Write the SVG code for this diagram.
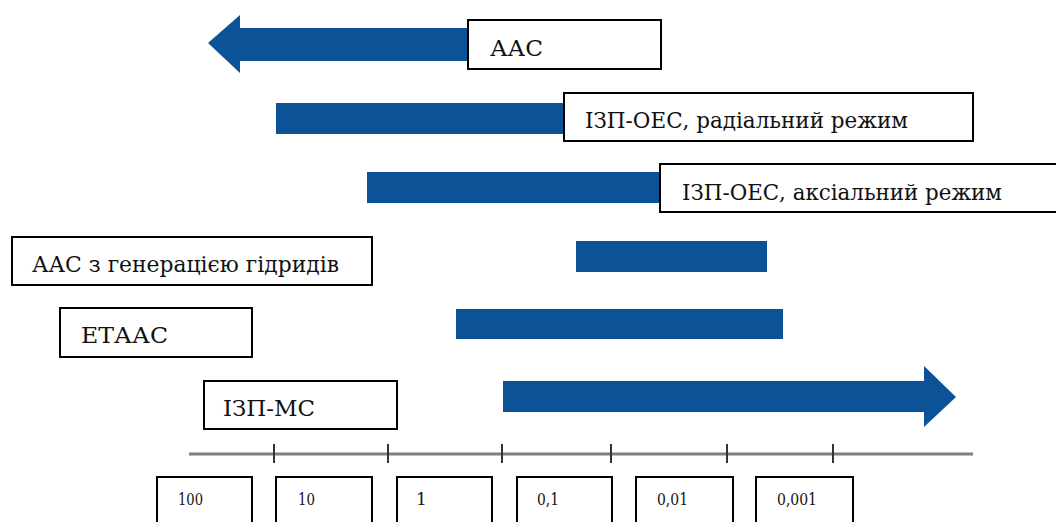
<svg xmlns="http://www.w3.org/2000/svg" width="1056" height="522" viewBox="0 0 1056 522">
<style>
.bar{fill:#0b5296}
.box{fill:#fff;stroke:#000;stroke-width:2}
.lbl{font-family:"DejaVu Serif","Liberation Serif",serif;font-size:23px;fill:#111}
.num{font-family:"DejaVu Serif","Liberation Serif",serif;font-size:17px;fill:#111}
.axis{stroke:#7f7f7f;stroke-width:3}
.tick{stroke:#333;stroke-width:2}
</style>
<rect width="1056" height="522" fill="#fff"/>
<g id="connectors">
<polygon class="bar" points="208,43 240,15 240,28 470,28 470,61 240,61 240,73"/>
<rect class="bar" x="276" y="103" width="290" height="31"/>
<rect class="bar" x="367" y="172" width="295" height="31"/>
<rect class="bar" x="576" y="241" width="191" height="31"/>
<rect class="bar" x="456" y="309" width="327" height="30"/>
<polygon class="bar" points="503,381 924,381 924,366 956,397 924,427 924,412 503,412"/>
</g>
<g id="node-aas"><rect class="box" x="468" y="20" width="193" height="49"/><text class="lbl" x="490" y="56" textLength="53" lengthAdjust="spacingAndGlyphs">ААС</text></g>
<g id="node-izp-oes-rad"><rect class="box" x="564" y="93" width="409" height="48"/><text class="lbl" x="585" y="128" textLength="323" lengthAdjust="spacingAndGlyphs">ІЗП-ОЕС, радіальний режим</text></g>
<g id="node-izp-oes-ax"><rect class="box" x="660" y="164" width="400" height="48"/><text class="lbl" x="682" y="200" textLength="320" lengthAdjust="spacingAndGlyphs">ІЗП-ОЕС, аксіальний режим</text></g>
<g id="node-aas-hydr"><rect class="box" x="12" y="237" width="360" height="48"/><text class="lbl" x="32" y="272" textLength="307" lengthAdjust="spacingAndGlyphs">ААС з генерацією гідридів</text></g>
<g id="node-etaas"><rect class="box" x="60" y="308" width="192" height="49"/><text class="lbl" x="81" y="343" textLength="87" lengthAdjust="spacingAndGlyphs">ЕТААС</text></g>
<g id="node-izp-ms"><rect class="box" x="204" y="381" width="193" height="48"/><text class="lbl" x="223" y="416" textLength="92" lengthAdjust="spacingAndGlyphs">ІЗП-МС</text></g>
<g id="axis">
<line class="axis" x1="189" y1="454" x2="973" y2="454"/>
<line class="tick" x1="274" y1="444" x2="274" y2="463"/>
<line class="tick" x1="388" y1="444" x2="388" y2="463"/>
<line class="tick" x1="502" y1="444" x2="502" y2="463"/>
<line class="tick" x1="611" y1="444" x2="611" y2="463"/>
<line class="tick" x1="727" y1="444" x2="727" y2="463"/>
<line class="tick" x1="833" y1="444" x2="833" y2="463"/>
</g>
<g id="node-100"><rect class="box" x="157" y="477" width="95" height="60"/><text class="num" x="178" y="505" textLength="25" lengthAdjust="spacingAndGlyphs">100</text></g>
<g id="node-10"><rect class="box" x="276" y="477" width="96" height="60"/><text class="num" x="298" y="505" textLength="17" lengthAdjust="spacingAndGlyphs">10</text></g>
<g id="node-1"><rect class="box" x="397" y="477" width="95" height="60"/><text class="num" x="416" y="505">1</text></g>
<g id="node-0-1"><rect class="box" x="517" y="477" width="95" height="60"/><text class="num" x="537" y="505" textLength="22" lengthAdjust="spacingAndGlyphs">0,1</text></g>
<g id="node-0-01"><rect class="box" x="636" y="477" width="97" height="60"/><text class="num" x="657" y="505" textLength="31" lengthAdjust="spacingAndGlyphs">0,01</text></g>
<g id="node-0-001"><rect class="box" x="756" y="477" width="97" height="60"/><text class="num" x="777" y="505" textLength="40" lengthAdjust="spacingAndGlyphs">0,001</text></g>
</svg>
